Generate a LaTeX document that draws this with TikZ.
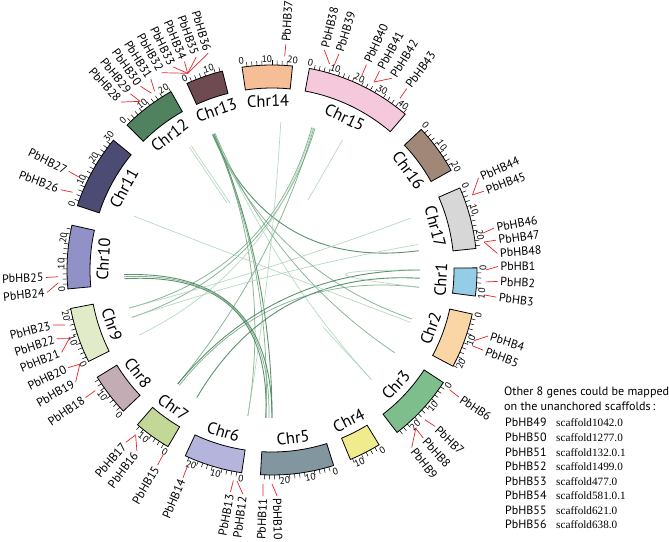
\documentclass[tikz,border=0pt]{standalone}
\usepackage{fontspec}
\setmainfont{PT Sans}
\newfontfamily\scaffont{Liberation Serif}
\usetikzlibrary{calc}
\definecolor{c1}{HTML}{96CDE6}
\definecolor{c2}{HTML}{FAD5A5}
\definecolor{c3}{HTML}{7DBE8C}
\definecolor{c4}{HTML}{F0EB8C}
\definecolor{c5}{HTML}{8296A0}
\definecolor{c6}{HTML}{B4B4DC}
\definecolor{c7}{HTML}{C3D796}
\definecolor{c8}{HTML}{C3ACB4}
\definecolor{c9}{HTML}{E1EBC8}
\definecolor{c10}{HTML}{9191C8}
\definecolor{c11}{HTML}{4B4B73}
\definecolor{c12}{HTML}{50825F}
\definecolor{c13}{HTML}{6E4B50}
\definecolor{c14}{HTML}{F5BE96}
\definecolor{c15}{HTML}{F5C8DC}
\definecolor{c16}{HTML}{A08778}
\definecolor{c17}{HTML}{D7D7D7}
\definecolor{lkd}{HTML}{3F7F55}
\definecolor{lkm}{HTML}{66A077}
\definecolor{lkf}{HTML}{A5CFB2}
\definecolor{gred}{HTML}{E52329}
\begin{document}
\begin{tikzpicture}[x=1pt,y=1pt,
  chrbox/.style={draw=black, line width=0.8pt},
  tickline/.style={line width=0.5pt},
  ticklab/.style={font=\fontsize{9.5}{10}\selectfont, inner sep=0pt},
  chrname/.style={font=\fontsize{16.5}{17}\selectfont, inner sep=0pt},
  genelab/.style={font=\fontsize{12}{13}\selectfont, inner sep=0pt},
  geneline/.style={draw=gred, line width=0.7pt},
  linkd/.style={draw=lkd, line width=0.9pt, opacity=0.85},
  linkm/.style={draw=lkm, line width=0.75pt, opacity=0.8},
  linkf/.style={draw=lkf, line width=0.7pt, opacity=0.8},
  tabhead/.style={font=\fontsize{12.1}{13}\selectfont, inner sep=0pt, anchor=base west},
  tabgene/.style={font=\fontsize{12}{13}\selectfont, inner sep=0pt, anchor=base west},
  tabscaf/.style={font=\scaffont\fontsize{11.2}{12}\selectfont, inner sep=0pt, anchor=base west}]
\useasboundingbox (0,0) rectangle (669,541);
\begin{scope}[shift={(272,271)}]
% links
\foreach \p/\q/\s in {113.6/7.5/linkd, 113.0/-90.0/linkd, 113.4/-92.4/linkm,
  112.6/-34.0/linkm, 113.8/-19.3/linkm, 112.8/-47.8/linkf, 113.2/-99.4/linkm,
  74.4/-165.1/linkm, 73.1/-161.3/linkm, 73.6/-129.6/linkm, 74.0/-153.9/linkf,
  -178.2/-90.0/linkd, -176.6/-92.4/linkd, -177.4/-91.2/linkm,
  -129.6/0.0/linkd, -120.5/-3.2/linkd, -128.8/-6.7/linkm, 0.0/-6.7/linkf,
  158.7/-20.7/linkf, 20.5/-165.1/linkf, 9.9/-161.3/linkf, 86.6/-99.4/linkf}
{
  \draw[\s] (\p:148) .. controls (\p:49.3) and (\q:49.3) .. (\q:148);
}
\draw[linkf] (123.9:148) -- (-45,67);
\draw[linkf] (123.0:148) -- (-42,67);
\draw[linkf] (61.5:148) -- (36,70);
\draw[linkf] (-47.8:148) -- (51,-57);
% chromosomes
\foreach \n/\a/\len/\mx/\col in {
 1/0.6/11.3/10/c1, 2/-12.4/22.3/22/c2, 3/-33.3/27.3/26/c3, 4/-58.5/12.9/12/c4,
 5/-72.5/29.6/28/c5, 6/-98.5/23.6/22/c6, 7/-120.5/15/14/c7, 8/-136.5/17.1/16/c8,
 9/-153.5/22.4/22/c9, 10/-174.7/25.6/24/c10, 11/161.7/30/30/c11, 12/135/22.1/22/c12,
 13/114.5/15/14/c13, 14/98.4/20.2/20/c14, 15/79.5/42.9/42/c15, 16/43.3/20.3/20/c16,
 17/23.6/25.1/24/c17}
{
  \pgfmathsetmacro\b{\a-0.7*\len}
  \pgfmathsetmacro\m{(\a+\b)/2}
  \pgfmathtruncatemacro\up{sin(\m)>=0 ? 1 : 0}
  \pgfmathsetmacro\rot{\up==1 ? \m-90 : \m+90}
  \draw[chrbox, fill=\col] (\a:182) arc[start angle=\a, end angle=\b, radius=182]
     -- (\b:205) arc[start angle=\b, end angle=\a, radius=205] -- cycle;
  \node[chrname, rotate=\rot] (chr\n) at (\m:169) {Chr\n};
  \foreach \p in {0,2,...,\mx} {
     \pgfmathsetmacro\t{\a-0.7*\p}
     \pgfmathtruncatemacro\ismaj{mod(\p,10)==0 ? 1 : 0}
     \ifnum\ismaj=1
       \pgfmathsetmacro\tr{\up==1 ? \t-90 : \t+90}
       \node[ticklab, rotate=\tr] at (\t:211) {\p};
     \else
       \draw[tickline] (\t:205) -- (\t:209.5);
     \fi
  }
}
% gene labels
\foreach \g/\ga/\la in {
 1/0/0.9, 2/-3.2/-2.9, 3/-6.7/-6.9, 4/-19.3/-17.0, 5/-20.7/-20.8, 6/-34.0/-34.2,
 7/-44.4/-43.8, 8/-47.8/-48.0, 9/-47.8/-51.8, 10/-90.0/-88.7, 11/-92.4/-92.3,
 12/-99.4/-97.4, 13/-100.4/-100.6, 14/-113.3/-113.2, 15/-120.5/-120.4,
 16/-129.6/-126.7, 17/-129.6/-130.3, 18/-145.7/-145.6, 19/-153.9/-150.3,
 20/-153.9/-154.4, 21/-161.3/-158.6, 22/-161.3/-162.3, 23/-165.1/-165.9,
 24/-176.6/-174.3, 25/-178.2/-178.1, 26/158.7/159.2, 27/154.3/154.1,
 28/128.0/132.0, 29/128.0/128.8, 30/124.3/125.6, 31/123.3/122.4,
 32/113.2/119.2, 33/113.2/116.0, 34/113.2/112.8, 35/113.2/109.6, 36/113.2/106.4,
 37/86.6/86.5, 38/74.4/76.6, 39/73.1/72.8, 40/65.2/65.3, 41/61.5/61.6,
 42/61.5/58.0, 43/53.3/53.4, 44/20.5/24.0, 45/20.5/20.4, 46/9.9/10.7,
 47/7.5/7.6, 48/7.5/4.2}
{
  \draw[geneline] (\ga:214) -- (\la:226);
  \pgfmathtruncatemacro\isr{cos(\la)>=0 ? 1 : 0}
  \ifnum\isr=1
    \node[genelab, rotate=\la, anchor=west] (gene\g) at (\la:228.5) {PbHB\g};
  \else
    \pgfmathsetmacro\lr{\la+180}
    \node[genelab, rotate=\lr, anchor=east] (gene\g) at (\la:228.5) {PbHB\g};
  \fi
}
\end{scope}
% table
\node[tabhead] (th1) at (504,145.5) {Other 8 genes could be mapped};
\node[tabhead] (th2) at (504,131) {on the unanchored scaffolds\,:};
\foreach \i/\gn/\sc in {0/49/scaffold1042.0, 1/50/scaffold1277.0, 2/51/scaffold132.0.1,
  3/52/scaffold1499.0, 4/53/scaffold477.0, 5/54/scaffold581.0.1, 6/55/scaffold621.0,
  7/56/scaffold638.0}
{
  \pgfmathsetmacro\yy{114-14.55*\i}
  \node[tabgene] (tg\gn) at (505,\yy) {PbHB\gn};
  \node[tabscaf] (ts\gn) at (556,\yy) {\sc};
}
\end{tikzpicture}
\end{document}
